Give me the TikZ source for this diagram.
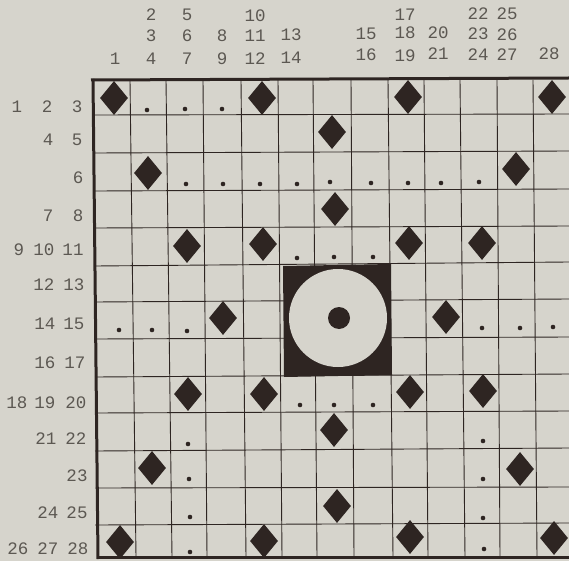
\documentclass[tikz,border=0pt]{standalone}
\usepackage{xcolor}
\usepackage{fontspec}
\setmonofont{Liberation Mono}
\usetikzlibrary{shapes.geometric}
\definecolor{paper}{HTML}{D6D4CC}
\definecolor{ink}{HTML}{2E2522}
\definecolor{printgray}{HTML}{5C5852}

\begin{document}
\begin{tikzpicture}[
    x=1pt, y=-1pt,
    numlabel/.style={font=\ttfamily\fontsize{17.5}{19}\selectfont, text=printgray, inner sep=0pt, anchor=center},
    gridline/.style={draw=ink, line width=0.9pt},
    frameline/.style={draw=ink, line width=3pt},
    piece/.style={draw=none, fill=ink, diamond, aspect=0.82, minimum width=28pt, minimum height=34pt, inner sep=0pt},
    spot/.style={draw=none, fill=ink, circle, minimum size=4.6pt, inner sep=0pt}
]
    \fill[paper] (0,0) rectangle (569,561);
    \useasboundingbox (0,0) rectangle (569,561);

    % board lines
    \foreach \a/\b in {130/136, 166/172, 203/207, 241/246, 278/282, 313/317, 351/354, 388/393, 424/428, 460/465, 497/500, 533/537} {
        \draw[gridline] (\a,80) -- (\b,557);
    }
    \foreach \a/\b in {115/114, 153/151, 191/189, 228/226, 266/262, 302/299, 339/337, 377/374, 413/411, 451/448, 488/487, 525/523} {
        \draw[gridline] (95,\a) -- (569,\b);
    }
    \draw[frameline] (91,80) -- (569,78);
    \draw[frameline] (93,79) -- (98,559);
    \draw[frameline] (97,557) -- (569,557);

    % centre block
    \coordinate (Bnw) at (283,266);
    \coordinate (Bne) at (391,264);
    \coordinate (Bse) at (392,375);
    \coordinate (Bsw) at (284,377);
    \fill[ink] (Bnw) -- (Bne) -- (Bse) -- (Bsw) -- cycle;
    \node[circle, fill=paper, minimum size=98pt, inner sep=0pt] (ring) at (338,318) {};
    \node[circle, fill=ink, minimum size=22pt, inner sep=0pt] (hub) at (339,318) {};

    % pieces
    \foreach \x/\y [count=\i] in {114/98, 262/98, 408/97, 552/97, 332/132, 148/173, 516/169, 335/209,
        187/246, 263/244, 409/243, 482/243, 223/318, 446/317,
        188/394, 264/394, 410/392, 483/391, 334/430, 152/468, 520/469, 337/506,
        120/542, 264/541, 410/537, 554/538} {
        \node[piece] (P\i) at (\x,\y) {};
    }

    % spots
    \foreach \x/\y [count=\i] in {147/110, 185/109, 222/109,
        186/184, 223/184, 260/184, 297/184, 330/182, 371/183, 408/183, 441/183, 479/182,
        297/258, 334/257, 373/257,
        119/330, 152/330, 187/331, 482/328, 520/328, 553/327,
        300/405, 334/405, 373/405,
        188/444, 189/479, 190/517, 190/552,
        483/441, 483/479, 483/518, 484/549} {
        \node[spot] (S\i) at (\x,\y) {};
    }

    % numbers above the board
    \foreach \x/\y/\n in {115/59/1, 151/15/2, 151/36/3, 151/59/4, 187/15/5, 187/36/6, 187/59/7,
        222/36/8, 222/59/9, 255/16/10, 255/36/11, 255/59/12, 291/35/13, 291/58/14,
        366/34/15, 366/55/16, 405/15/17, 405/33/18, 405/56/19, 438/33/20, 438/54/21,
        478/14/22, 478/34/23, 478/55/24, 507/14/25, 507/35/26, 507/55/27, 549/54/28} {
        \node[numlabel] (T\n) at (\x,\y) {\n};
    }

    % numbers left of the board
    \foreach \x/\y/\n in {17/107/1, 47/107/2, 77/107/3, 48/140/4, 77/140/5, 78/178/6, 48/216/7, 78/216/8,
        19/250/9, 44/250/10, 73/250/11, 44/285/12, 74/285/13, 45/324/14, 74/324/15, 45/363/16, 75/363/17,
        17/403/18, 45/403/19, 76/403/20, 46/439/21, 76/439/22, 77/476/23, 48/513/24, 77/513/25,
        18/549/26, 48/549/27, 78/549/28} {
        \node[numlabel] (L\n) at (\x,\y) {\n};
    }
\end{tikzpicture}
\end{document}
